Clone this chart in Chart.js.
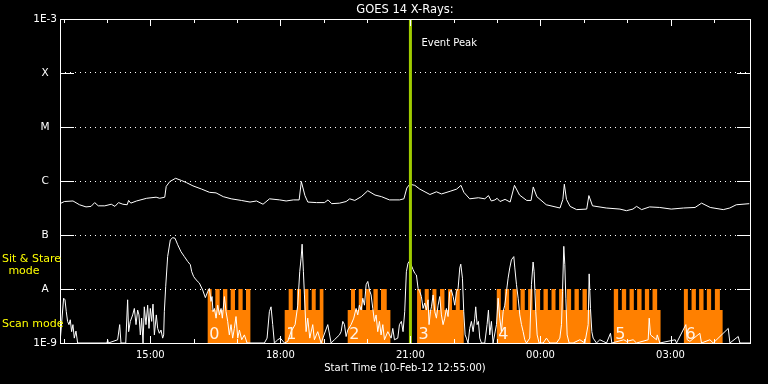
<!DOCTYPE html>
<html>
<head>
<meta charset="utf-8">
<title>GOES 14 X-Rays</title>
<script src="https://cdn.jsdelivr.net/npm/chart.js@4.4.1/dist/chart.umd.min.js"></script>
<style>
  html, body { margin: 0; padding: 0; background: #000; }
  canvas { display: block; }
</style>
</head>
<body>
<canvas id="goesChart" width="768" height="384"></canvas>
<script>
// --- values ---
// time is in minutes after the start time
const startTime = '12:55';
const endMinute = 955;

// long channel (upper curve), log10 of flux
const longMinutes = [0, 6, 18, 27, 36, 43, 48, 53, 62, 71, 76, 81, 87, 93, 95, 98, 106, 120, 133, 138,
  145, 147, 152, 160, 168, 175, 184, 196, 207, 216, 226, 237, 251, 263, 272, 281, 290, 304, 313, 323,
  331, 334, 339, 343, 355, 366, 371, 376, 387, 396, 401, 408, 417, 426, 436, 445, 456, 470, 476, 480,
  484, 491, 498, 512, 521, 528, 540, 549, 555, 559, 567, 579, 588, 593, 597, 602, 605, 609, 616, 623,
  629, 636, 646, 652, 655, 660, 673, 692, 696, 698, 701, 706, 715, 729, 732, 737, 756, 775, 784, 793,
  798, 805, 816, 830, 846, 863, 879, 888, 900, 918, 927, 936, 954];
const longLogFlux = [-6.42, -6.38, -6.37, -6.44, -6.48, -6.47, -6.40, -6.46, -6.46, -6.43, -6.47, -6.40, -6.43, -6.44, -6.36, -6.41, -6.37, -6.32, -6.30, -6.32,
  -6.30, -6.10, -6.01, -5.95, -5.99, -6.03, -6.09, -6.15, -6.21, -6.22, -6.29, -6.33, -6.36, -6.39, -6.37, -6.43, -6.33, -6.35, -6.37, -6.35,
  -6.35, -6.01, -6.27, -6.39, -6.40, -6.40, -6.35, -6.42, -6.41, -6.38, -6.33, -6.36, -6.29, -6.18, -6.26, -6.29, -6.35, -6.35, -6.33, -6.13,
  -6.06, -6.08, -6.15, -6.25, -6.20, -6.24, -6.19, -6.15, -6.08, -6.21, -6.33, -6.31, -6.33, -6.27, -6.37, -6.35, -6.32, -6.38, -6.34, -6.39,
  -6.08, -6.26, -6.36, -6.36, -6.11, -6.29, -6.44, -6.50, -6.34, -6.06, -6.34, -6.47, -6.53, -6.52, -6.27, -6.46, -6.50, -6.52, -6.55, -6.52,
  -6.47, -6.53, -6.48, -6.49, -6.52, -6.50, -6.49, -6.41, -6.49, -6.53, -6.50, -6.44, -6.42];

// short channel (lower curve), log10 of flux, -9 sits on the bottom axis
const shortMinutes = [0, 5.0, 6.9, 8.7, 10.5, 12.4, 14.2, 16.1, 17.9, 19.8, 22.1, 24.4, 65.0, 66.0, 67.0, 79.8, 82.6, 84.4, 91.0,
  93.6, 95.0, 97.3, 100.6, 102.9, 105.2, 107.5, 109.3, 111.2, 113.0, 114.9, 116.7, 119.0, 121.3, 123.2, 125.0, 126.9, 128.7, 130.6,
  133.3, 135.2, 137.5, 139.8, 142.1, 143.5, 144.4, 146.3, 149.0, 152.7, 156.0, 159.2, 162.9, 167.5, 172.1, 176.7, 180.4, 182.3, 185.0,
  188.3, 192.9, 197.5, 201.2, 204.4, 206.7, 209.0, 210.4, 211.8, 213.7, 216.0, 218.3, 220.6, 222.9, 224.7, 227.5, 229.8, 232.1, 234.4,
  236.7, 239.0, 241.3, 243.6, 246.0, 248.3, 251.5, 255.2, 258.9, 282.9, 286.6, 289.8, 292.1, 294.4, 296.7, 301.4, 305.0, 310.6, 315.2,
  319.8, 325.4, 329.1, 331.8, 333.7, 335.1, 336.9, 338.3, 340.6, 342.9, 345.7, 349.8, 352.1, 356.7, 361.4, 370.6, 375.2, 379.8, 386.8,
  389.1, 391.4, 393.7, 396.0, 398.3, 402.9, 406.6, 409.8, 412.1, 414.4, 416.8, 419.1, 421.4, 423.7, 426.0, 428.3, 430.6, 432.9, 435.2,
  437.5, 439.8, 442.1, 444.4, 446.8, 449.1, 453.7, 458.3, 460.6, 462.9, 467.5, 469.8, 472.5, 474.8, 477.1, 479.4, 481.7, 484.0, 486.8,
  488.7, 491.0, 493.3, 495.6, 497.9, 500.2, 502.5, 504.8, 507.1, 509.4, 510.8, 512.7, 514.1, 516.4, 518.7, 521.0, 523.3, 525.6, 527.9,
  530.2, 532.5, 534.8, 537.1, 539.4, 541.7, 544.1, 546.4, 548.7, 551.0, 553.3, 554.7, 557.0, 558.8, 560.7, 562.5, 564.8, 567.1, 569.4,
  571.8, 574.1, 575.4, 577.3, 579.1, 581.0, 583.3, 587.9, 591.1, 593.0, 594.8, 597.1, 599.4, 604.1, 606.4, 608.7, 611.0, 613.3, 615.6,
  617.9, 620.2, 622.5, 624.8, 628.1, 629.5, 631.8, 634.1, 636.4, 638.7, 641.0, 643.3, 645.6, 650.2, 652.5, 654.8, 656.2, 658.5, 660.4,
  663.1, 668.7, 673.3, 677.9, 687.2, 691.8, 694.1, 695.5, 697.3, 698.7, 700.1, 701.9, 704.7, 710.2, 719.5, 726.4, 731.0, 732.4, 734.2,
  736.1, 737.9, 742.5, 747.2, 751.8, 756.4, 761.9, 763.8, 780.4, 784.1, 793.3, 797.9, 814.1, 815.5, 817.3, 825.6, 826.6, 830.2, 851.5,
  853.3, 866.2, 868.1, 871.8, 885.6, 887.9, 899.5, 904.1, 924.9, 927.2, 938.7, 941.0, 955];
const shortLogFlux = [-9, -8.17, -8.20, -8.42, -8.60, -8.66, -8.57, -8.79, -8.66, -8.91, -8.78, -9, -9, -8.94, -9, -8.94, -8.66, -9, -9,
  -8.20, -8.79, -8.60, -8.48, -8.36, -8.66, -8.39, -8.48, -8.85, -8.54, -9, -8.33, -8.66, -8.30, -8.73, -8.36, -8.60, -8.28, -8.85,
  -8.48, -8.73, -8.82, -8.76, -8.91, -8.85, -8.42, -7.95, -7.40, -7.09, -7.05, -7.06, -7.18, -7.31, -7.40, -7.49, -7.55, -7.68, -7.77,
  -7.83, -7.89, -8.02, -8.16, -8.05, -7.99, -8.23, -8.14, -8.42, -8.36, -8.54, -8.30, -8.48, -8.36, -8.54, -8.14, -8.42, -8.60, -8.85,
  -8.66, -8.91, -8.73, -8.51, -8.91, -8.76, -8.94, -8.85, -9, -9, -8.91, -8.42, -8.33, -8.66, -9, -8.94, -8.91, -9, -8.97,
  -8.79, -8.66, -8.30, -7.68, -7.43, -7.17, -7.68, -8.11, -8.79, -8.54, -8.91, -8.66, -8.94, -8.79, -9, -8.66, -9, -8.94, -8.85,
  -8.79, -8.60, -8.66, -8.88, -8.76, -8.66, -8.54, -8.36, -8.48, -8.30, -8.39, -8.17, -8.30, -7.92, -7.86, -8.02, -8.11, -8.36, -8.60,
  -8.48, -8.79, -8.60, -8.85, -8.66, -8.94, -8.79, -8.91, -8.73, -8.94, -8.91, -8.66, -8.60, -8.79, -8.42, -7.68, -7.52, -7.48, -7.58,
  -7.64, -7.71, -7.74, -7.99, -8.05, -8.14, -8.36, -8.26, -8.39, -8.20, -8.66, -8.42, -8.33, -8.11, -8.42, -8.54, -8.30, -8.14, -8.48,
  -8.66, -8.54, -8.36, -8.51, -8.05, -8.02, -8.14, -8.30, -8.05, -7.99, -7.61, -7.54, -7.80, -8.42, -8.85, -8.91, -9, -8.73, -8.60,
  -8.79, -8.54, -8.33, -8.66, -8.60, -8.91, -9, -9, -8.66, -8.39, -8.85, -8.60, -9, -8.66, -8.17, -8.54, -8.79, -8.42, -8.30,
  -8.05, -7.80, -7.61, -7.46, -7.40, -7.61, -7.92, -8.17, -8.48, -8.66, -8.79, -8.94, -9, -8.91, -7.92, -7.50, -7.68, -8.42, -8.85,
  -9, -9, -8.91, -9, -9, -8.91, -8.66, -8.05, -7.21, -7.55, -8.17, -8.85, -9, -9, -8.94, -9, -8.66, -7.72, -8.36,
  -8.79, -8.91, -9, -8.94, -8.97, -9, -8.82, -9, -8.94, -8.97, -8.94, -9, -8.94, -8.54, -8.85, -8.94, -8.85, -9, -8.94,
  -9, -8.66, -8.94, -8.97, -8.82, -9, -8.94, -9, -8.73, -9, -8.88, -9, -9];

// observing mode timeline (orange): 0 = none, 1 = low step, 2 = high step
const modeMinutes = [0,
  204.4, 209.9, 215.0, 221.0, 225.6, 231.6, 236.2, 242.2, 246.9, 252.8, 257.4, 263.5,
  311.0, 316.5, 322.1, 328.0, 333.6, 338.3, 343.8, 348.4, 353.9, 359.5, 364.6,
  398.2, 402.8, 408.3, 413.5, 418.6, 423.6, 429.1, 433.8, 439.8, 444.3, 452.2, 457.3,
  494.2, 499.7, 504.8, 510.4, 515.5, 521.0, 526.0, 532.1, 537.1, 542.6, 547.8, 553.3, 558.8,
  604.5, 610.1, 615.6, 621.6, 626.3, 632.2, 637.4, 643.3, 647.9, 654.0, 658.5, 664.5, 669.2,
  675.2, 680.3, 685.8, 690.8, 696.9, 701.5, 707.4, 712.1, 718.1, 723.2, 729.2, 734.3,
  766.5, 772.5, 777.6, 783.6, 788.3, 794.2, 798.8, 804.9, 809.5, 815.4, 820.1, 826.5, 831.2,
  863.5, 869.0, 874.1, 880.1, 884.6, 890.7, 895.3, 901.2, 906.4, 913.3, 917.1,
  955];
const modeLevels = [0,
  2, 1, 2, 1, 2, 1, 2, 1, 2, 1, 2, 0,
  1, 2, 1, 2, 1, 2, 1, 2, 1, 2, 0,
  1, 2, 1, 2, 1, 2, 1, 2, 1, 2, 1, 0,
  2, 1, 2, 1, 2, 1, 2, 1, 2, 1, 2, 1, 0,
  2, 1, 2, 1, 2, 1, 2, 1, 2, 1, 2, 1, 2,
  1, 2, 1, 2, 1, 2, 1, 2, 1, 2, 1, 0,
  2, 1, 2, 1, 2, 1, 2, 1, 2, 1, 2, 1, 0,
  2, 1, 2, 1, 2, 1, 2, 1, 2, 1, 0,
  0];
const blockNames = ['0', '1', '2', '3', '4', '5', '6'];

const eventPeak = '21:00';

const yTickLabels = ['1E-9', 'A', 'B', 'C', 'M', 'X', '1E-3'];
const xTickLabels = ['15:00', '18:00', '21:00', '00:00', '03:00'];


// --- helpers ---
function clockToMinutes(str) {
    const [h, m] = str.split(':').map(Number);
    const [h0, m0] = startTime.split(':').map(Number);
    return ((h * 60 + m) - (h0 * 60 + m0) + 1440) % 1440;
}

const modeFlux = [1e-9, 4.1e-9, 1e-8]; // height of each mode step on the flux axis
const decades = yTickLabels.map((_, i) => Math.pow(10, -9 + i));
const xTickMinutes = xTickLabels.map(clockToMinutes);
const peakMinute = clockToMinutes(eventPeak);

// start of every orange block (where the mode leaves 0)
const blockStarts = [];
modeLevels.forEach((lv, i) => {
    if (i > 0 && lv > 0 && modeLevels[i - 1] === 0) blockStarts.push(modeMinutes[i]);
});

const toPoints = (xs, logs) => xs.map((m, i) => ({ x: m, y: Math.pow(10, logs[i]) }));


// --- frame, ticks and annotations ---
const goesDecor = {
    id: 'goesDecor',
    afterDatasetsDraw(chart) {
        const { ctx, chartArea: a, scales } = chart;
        const x = scales.x, y = scales.y;
        ctx.save();
        ctx.strokeStyle = '#ffffff';
        ctx.lineWidth = 1;
        ctx.strokeRect(a.left + 0.5, a.top + 0.5, a.right - a.left, a.bottom - a.top);

        // inward tick marks on the flux axis, both sides
        ctx.beginPath();
        decades.forEach(v => {
            const py = Math.round(y.getPixelForValue(v)) + 0.5;
            ctx.moveTo(a.left, py); ctx.lineTo(a.left + 14, py);
            ctx.moveTo(a.right - 13, py); ctx.lineTo(a.right, py);
        });
        // hourly ticks top and bottom, longer every 3 hours
        for (let m = clockToMinutes('13:00'); m < endMinute; m += 60) {
            const px = Math.round(x.getPixelForValue(m)) + 0.5;
            const len = xTickMinutes.includes(m) ? 7 : 4;
            ctx.moveTo(px, a.top); ctx.lineTo(px, a.top + len);
            ctx.moveTo(px, a.bottom); ctx.lineTo(px, a.bottom - len);
        }
        ctx.stroke();

        ctx.fillStyle = '#ffffff';
        ctx.textBaseline = 'middle';
        ctx.textAlign = 'center';
        ctx.font = '11.5px "DejaVu Sans"';
        ctx.fillText('GOES 14 X-Rays:', (a.left + a.right) / 2, 10);
        ctx.font = '10px "DejaVu Sans"';
        ctx.fillText('Start Time (10-Feb-12 12:55:00)', (a.left + a.right) / 2, 368);

        ctx.textAlign = 'left';
        ctx.fillText('Event Peak', x.getPixelForValue(peakMinute) + 11, a.top + 24);

        // block numbers
        ctx.font = '16px "DejaVu Sans"';
        ctx.textBaseline = 'alphabetic';
        ctx.fillStyle = '#fff4e8';
        blockStarts.forEach((m, i) => {
            ctx.fillText(blockNames[i], x.getPixelForValue(m) + 1.5, 338.5);
        });

        // mode captions
        ctx.fillStyle = '#ffff00';
        ctx.font = '11px "DejaVu Sans"';
        ctx.textBaseline = 'middle';
        ctx.fillText('Sit & Stare', 2, 259);
        ctx.fillText('Scan mode', 2, 324);
        ctx.textAlign = 'center';
        ctx.fillText('mode', 24, 271);
        ctx.restore();
    }
};

Chart.defaults.font.family = '"DejaVu Sans"';
Chart.defaults.color = '#ffffff';

var ctx = document.getElementById('goesChart');

const myChart = new Chart(ctx, {
    type: 'line',
    data: {
        datasets: [
            {
                label: 'Event Peak',
                data: [{ x: peakMinute, y: 1e-9 }, { x: peakMinute, y: 1e-3 }],
                borderColor: '#a0cc00',
                borderWidth: 3,
                pointRadius: 0
            },
            {
                label: 'Long channel',
                data: toPoints(longMinutes, longLogFlux),
                borderColor: '#ffffff',
                borderWidth: 1,
                pointRadius: 0
            },
            {
                label: 'Short channel',
                data: toPoints(shortMinutes, shortLogFlux),
                borderColor: '#ffffff',
                borderWidth: 1,
                pointRadius: 0
            },
            {
                label: 'Mode',
                data: modeMinutes.map((m, i) => ({ x: m, y: modeFlux[modeLevels[i]] })),
                stepped: true,
                fill: 'start',
                backgroundColor: '#ff8000',
                borderColor: 'rgba(0,0,0,0)',
                borderWidth: 0,
                pointRadius: 0
            }
        ]
    },
    options: {
        responsive: false,
        animation: false,
        devicePixelRatio: 1,
        layout: { padding: { left: 0, right: 18, top: 19, bottom: 0 } },
        plugins: { legend: { display: false }, tooltip: { enabled: false }, title: { display: false } },
        scales: {
            x: {
                type: 'linear',
                min: 0,
                max: endMinute,
                grid: { display: false, drawTicks: false },
                border: { display: false },
                afterBuildTicks: scale => { scale.ticks = xTickMinutes.map(v => ({ value: v })); },
                afterFit: scale => { scale.height = 41; },
                ticks: {
                    autoSkip: false,
                    maxRotation: 0,
                    padding: 6,
                    color: '#ffffff',
                    font: { size: 10 },
                    callback: v => xTickLabels[xTickMinutes.indexOf(v)]
                }
            },
            y: {
                type: 'logarithmic',
                min: 1e-9,
                max: 1e-3,
                grid: { color: '#ffffff', drawTicks: false, lineWidth: 1 },
                border: { display: false, dash: [1, 4] },
                afterBuildTicks: scale => { scale.ticks = decades.map(v => ({ value: v })); },
                afterFit: scale => { scale.width = 60; },
                ticks: {
                    crossAlign: 'center',
                    padding: 3,
                    color: '#ffffff',
                    font: { size: 10.5 },
                    callback: (v, i) => yTickLabels[i]
                }
            }
        }
    },
    plugins: [goesDecor]
});
</script>
</body>
</html>
